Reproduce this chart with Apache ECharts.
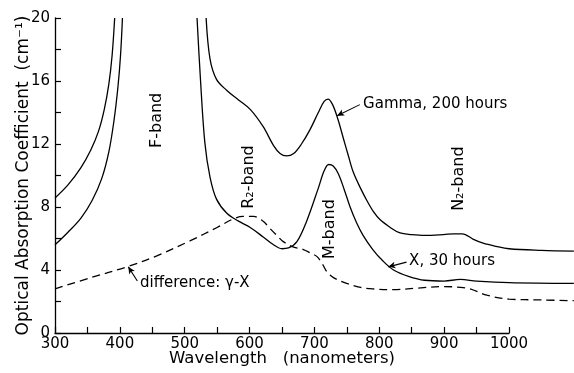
<!DOCTYPE html>
<html>
<head>
<meta charset="utf-8">
<script src="https://cdn.jsdelivr.net/npm/echarts@6/dist/echarts.min.js"></script>
<style>
  html, body { margin: 0; padding: 0; background: #fff; }
  #chart { width: 574px; height: 373px; }
</style>
</head>
<body>
<div id="chart"></div>
<script>
// wavelength (nm), absorption coefficient (cm^-1)
var gammaLeft = [[300, 8.57], [320, 9.4], [340, 10.5], [355, 11.6], [367, 12.8], [376, 14.2], [383, 15.8], [388, 17.6], [392, 20]];
var gammaRight = [[533, 20], [539, 17.4], [549, 16.1], [565, 15.4], [583, 14.8], [601, 14.2], [621, 13.1], [637, 11.9],
    [647, 11.4], [657, 11.25], [668, 11.4], [680, 12.0], [693, 12.9], [706, 14.0], [715, 14.7], [721, 14.85], [728, 14.5],
    [736, 13.6], [745, 12.3], [752, 11.3], [760, 10.2], [771, 9.2], [781, 8.4], [791, 7.7], [801, 7.2], [817, 6.7],
    [832, 6.35], [850, 6.25], [870, 6.2], [899, 6.25], [915, 6.3], [928, 6.3], [945, 5.95], [960, 5.7], [980, 5.5],
    [1000, 5.35], [1050, 5.25], [1100, 5.2]];
var xrayLeft = [[300, 5.6], [320, 6.4], [340, 7.3], [357, 8.4], [372, 9.8], [383, 11.5], [391, 13.5], [397, 15.6], [401, 17.6], [404, 20]];
var xrayRight = [[519, 20], [524, 16.3], [531, 12.1], [539, 9.9], [549, 8.5], [565, 7.6], [583, 7.1], [601, 6.7],
    [621, 6.1], [637, 5.6], [650, 5.35], [660, 5.4], [673, 5.8], [688, 7.1], [706, 9.2], [715, 10.3], [722, 10.7],
    [729, 10.6], [737, 10.1], [746, 9.1], [755, 8.0], [765, 7.0], [775, 6.2], [790, 5.3], [805, 4.6], [822, 4.0],
    [845, 3.6], [870, 3.35], [900, 3.3], [925, 3.4], [950, 3.3], [1000, 3.2], [1100, 3.15]];
var difference = [[300, 2.8], [354, 3.5], [411, 4.2], [457, 4.9], [508, 5.85], [550, 6.7], [575, 7.25], [590, 7.4],
    [606, 7.4], [621, 7.1], [630, 6.7], [642, 6.2], [652, 5.8], [668, 5.45], [683, 5.3], [693, 5.1], [704, 4.85],
    [712, 4.4], [719, 3.9], [730, 3.5], [750, 3.15], [771, 2.9], [790, 2.8], [822, 2.75], [858, 2.85], [900, 2.95],
    [925, 2.9], [940, 2.8], [966, 2.4], [1000, 2.15], [1050, 2.1], [1100, 2.05]];

var xTicks = [300, 1000, 50];   // min, max, step of the drawn axis
var xDataMax = 1100;            // curves run on past the axis end
var yTicks = [0, 20, 2];

var FONT = 'DejaVu Sans';

// text notes in data coordinates
var notes = [
    {text: 'Gamma, 200 hours', x: 775, y: 14.55},
    {text: 'X, 30 hours', x: 846, y: 4.55},
    {text: 'difference: γ-X', x: 431, y: 3.17},
    {text: 'F-band', x: 457, y: 13.5, rotate: true},
    {text: 'R₂-band', x: 599, y: 9.9, rotate: true},
    {text: 'M-band', x: 724, y: 6.6, rotate: true},
    {text: 'N₂-band', x: 923, y: 9.8, rotate: true}
];
// pointer arrows: from, to, curveness
var arrows = [
    [[770, 14.5], [735, 13.8], 0.15],
    [[842, 4.5], [814, 4.2], 0.1],
    [[427, 3.3], [413, 4.2], -0.3]
];

function curve(data, dashed, marks) {
    var s = {
        type: 'line',
        xAxisIndex: 1,
        yAxisIndex: 1,
        data: data,
        smooth: 0.35,
        symbol: 'none',
        lineStyle: {color: '#000', width: 1.3, type: dashed ? [8, 5] : 'solid'},
        silent: true
    };
    if (marks) {
        s.markLine = {
            silent: true,
            symbol: ['none', 'arrow'],
            symbolSize: [5, 7],
            label: {show: false},
            lineStyle: {color: '#000', width: 1.1, type: 'solid'},
            data: marks.map(function (a) {
                return [{coord: a[0], lineStyle: {curveness: a[2]}}, {coord: a[1]}];
            })
        };
    }
    return s;
}

var gridLeft = 55, gridTop = 18, plotW = 454, plotH = 315;
var pxPerNm = plotW / (xTicks[1] - xTicks[0]);

var myChart = echarts.init(document.getElementById('chart'));
var option = {
    backgroundColor: '#fff',
    animation: false,
    grid: [
        {left: gridLeft, top: gridTop, width: plotW, height: plotH, outerBoundsMode: 'none', containLabel: false},
        {left: gridLeft, top: gridTop, width: pxPerNm * (xDataMax - xTicks[0]), height: plotH, outerBoundsMode: 'none', containLabel: false}
    ],
    xAxis: [{
        type: 'value',
        gridIndex: 0,
        min: xTicks[0], max: xTicks[1], interval: xTicks[2],
        name: 'Wavelength   (nanometers)',
        nameLocation: 'middle',
        nameGap: 17,
        nameMoveOverlap: false,
        nameTextStyle: {color: '#000', fontSize: 16.5, fontFamily: FONT},
        axisLine: {lineStyle: {color: '#000', width: 1.3}},
        axisTick: {inside: true, length: 6, lineStyle: {color: '#000', width: 1.2}},
        axisLabel: {
            color: '#000', fontSize: 15, fontFamily: FONT, margin: 4,
            formatter: function (v) { return v % 100 === 0 ? String(v) : ''; }
        },
        splitLine: {show: false}
    }, {
        type: 'value',
        gridIndex: 1,
        min: xTicks[0], max: xDataMax,
        show: false
    }],
    yAxis: [{
        type: 'value',
        gridIndex: 0,
        min: yTicks[0], max: yTicks[1], interval: yTicks[2],
        name: 'Optical Absorption Coefficient  (cm⁻¹)',
        nameLocation: 'middle',
        nameGap: 23,
        nameMoveOverlap: false,
        nameTextStyle: {color: '#000', fontSize: 17, fontFamily: FONT},
        axisLine: {show: true, lineStyle: {color: '#000', width: 1.3}},
        axisTick: {show: true, inside: true, length: 6, lineStyle: {color: '#000', width: 1.2}},
        axisLabel: {
            color: '#000', fontSize: 15, fontFamily: FONT, margin: 5,
            formatter: function (v) { return v % 4 === 0 ? String(v) : ''; }
        },
        splitLine: {show: false}
    }, {
        type: 'value',
        gridIndex: 1,
        min: yTicks[0], max: yTicks[1],
        show: false
    }],
    series: [
        curve(gammaLeft),
        curve(gammaRight, false, [arrows[0]]),
        curve(xrayLeft),
        curve(xrayRight, false, [arrows[1]]),
        curve(difference, true, [arrows[2]])
    ]
};
myChart.setOption(option);

var g = notes.map(function (n) {
    var p = myChart.convertToPixel({gridIndex: 0}, [n.x, n.y]);
    return {
        type: 'text',
        x: p[0], y: p[1],
        rotation: n.rotate ? Math.PI / 2 : 0,
        silent: true,
        style: {
            text: n.text,
            fill: '#000',
            font: (n.rotate ? 16 : 15) + 'px "' + FONT + '"',
            textAlign: n.rotate ? 'center' : 'left',
            textVerticalAlign: 'middle'
        }
    };
});
myChart.setOption({graphic: g});
</script>
</body>
</html>
